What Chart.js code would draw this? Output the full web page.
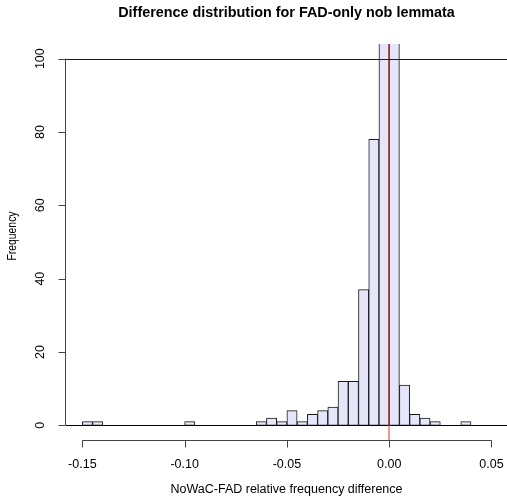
<!DOCTYPE html>
<html>
<head>
<meta charset="utf-8">
<script src="https://cdn.jsdelivr.net/npm/chart.js@4"></script>
<style>
  html, body { margin: 0; padding: 0; background: #fff; }
  #wrap { width: 507px; height: 501px; }
</style>
</head>
<body>
<div id="wrap"><canvas id="hist"></canvas></div>
<script>
// histogram bins, width 0.005, from -0.15 to 0.04
const binStart = -0.15;
const binWidth = 0.005;
// the two bins around 0 go off the top of the plot, their heights are guesses
const counts = [1, 1, 0, 0, 0, 0, 0, 0, 0, 0,
                1, 0, 0, 0, 0, 0, 0,
                1, 2, 1, 4, 1, 3, 4, 5, 12, 12, 37, 78, 190, 160, 11, 3, 2, 1, 0, 0, 1];
const xTicks = [-0.15, -0.10, -0.05, 0, 0.05];
const xTickLabels = ['-0.15', '-0.10', '-0.05', '0.00', '0.05'];
const yTicks = [0, 20, 40, 60, 80, 100];
const refLineY = 100;
const refLineX = 0;

const points = counts.map((c, i) => ({ x: binStart + binWidth * (i + 0.5), y: c }));

const FONT = '"Liberation Sans", Arial, sans-serif';

// R style axes, labels and the reference lines
const rAxes = {
  id: 'rAxes',
  afterDatasetsDraw(chart) {
    const { ctx, chartArea: a, scales: { x, y } } = chart;
    ctx.save();
    ctx.lineWidth = 1;

    // baseline at 0
    ctx.strokeStyle = '#000000';
    ctx.beginPath();
    const y0 = Math.round(y.getPixelForValue(0)) + 0.5;
    ctx.moveTo(a.left, y0);
    ctx.lineTo(a.right, y0);
    ctx.stroke();

    // x axis
    ctx.strokeStyle = '#444444';
    ctx.beginPath();
    const xa = Math.round(a.bottom) + 0.5;
    ctx.moveTo(x.getPixelForValue(xTicks[0]), xa);
    ctx.lineTo(x.getPixelForValue(xTicks[xTicks.length - 1]), xa);
    xTicks.forEach(v => {
      const px = Math.round(x.getPixelForValue(v)) + 0.5;
      ctx.moveTo(px, xa);
      ctx.lineTo(px, xa + 7);
    });
    ctx.stroke();

    // y axis
    ctx.beginPath();
    const ya = Math.round(a.left) - 0.5;
    ctx.moveTo(ya, y.getPixelForValue(yTicks[0]));
    ctx.lineTo(ya, y.getPixelForValue(yTicks[yTicks.length - 1]));
    yTicks.forEach(v => {
      const py = Math.round(y.getPixelForValue(v)) + 0.5;
      ctx.moveTo(ya, py);
      ctx.lineTo(ya - 7, py);
    });
    ctx.stroke();

    // red vertical line at 0 (on a whole pixel so it blurs like the original)
    ctx.strokeStyle = 'rgb(235, 40, 40)';
    ctx.beginPath();
    const xr = Math.round(x.getPixelForValue(refLineX));
    ctx.moveTo(xr, a.top);
    ctx.lineTo(xr, a.bottom);
    ctx.stroke();

    // blue horizontal line at 100
    ctx.strokeStyle = 'rgb(0, 0, 255)';
    ctx.beginPath();
    const yb = Math.round(y.getPixelForValue(refLineY)) + 0.5;
    ctx.moveTo(a.left, yb);
    ctx.lineTo(a.right, yb);
    ctx.stroke();

    ctx.fillStyle = '#000';
    ctx.font = '12.5px ' + FONT;
    ctx.textAlign = 'center';
    ctx.textBaseline = 'middle';
    xTicks.forEach((v, i) => {
      ctx.fillText(xTickLabels[i], x.getPixelForValue(v), 465);
    });

    yTicks.forEach(v => {
      ctx.save();
      ctx.translate(41, y.getPixelForValue(v));
      ctx.rotate(-Math.PI / 2);
      ctx.fillText(String(v), 0, 0);
      ctx.restore();
    });

    // axis titles
    ctx.fillText('NoWaC-FAD relative frequency difference', (a.left + a.right) / 2, 490);
    ctx.save();
    ctx.translate(13, 236);
    ctx.rotate(-Math.PI / 2);
    ctx.scale(0.83, 1);
    ctx.fillText('Frequency', 0, 0);
    ctx.restore();

    // main title
    ctx.font = 'bold 14.4px ' + FONT;
    ctx.fillText('Difference distribution for FAD-only nob lemmata', (a.left + a.right) / 2, 13);

    ctx.restore();
  }
};

new Chart(document.getElementById('hist'), {
  type: 'bar',
  data: {
    datasets: [{
      data: points,
      backgroundColor: '#e6e6fa',
      borderColor: '#1a1a1a',
      borderWidth: 1,
      borderSkipped: false,
      barPercentage: 1,
      categoryPercentage: 1
    }]
  },
  options: {
    responsive: true,
    maintainAspectRatio: false,
    animation: false,
    layout: { padding: { left: 66, right: 0, top: 44, bottom: 61 } },
    plugins: { legend: { display: false }, tooltip: { enabled: false } },
    scales: {
      x: { type: 'linear', min: -0.158, max: 0.0576, display: false, offset: false },
      y: { min: -4, max: 104, display: false }
    }
  },
  plugins: [rAxes]
});
</script>
</body>
</html>
